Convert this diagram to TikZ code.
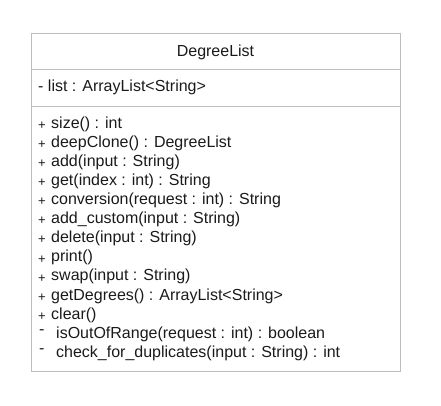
\documentclass[tikz,border=0pt]{standalone}
\usepackage{fontspec}
\setmainfont{Liberation Sans}
\definecolor{linegray}{HTML}{BDBDBD}
\definecolor{txt}{HTML}{1A1A1A}
\begin{document}
\begin{tikzpicture}[x=1pt,y=-1pt,
  boxline/.style={draw=linegray, line width=1pt},
  member/.style={anchor=base west, inner sep=0pt, font=\fontsize{16}{19}\selectfont, text=txt},
  plusmark/.style={anchor=base west, inner sep=0pt, font=\fontsize{13}{13}\selectfont, text=txt},
  minusmark/.style={anchor=base west, inner sep=0pt, font=\fontsize{16}{16}\selectfont, text=txt},
]
\useasboundingbox (0,0) rectangle (441,405);
\node[boxline, anchor=north west, minimum width=369pt, minimum height=338pt, inner sep=0pt] (box) at (31,33) {};
\coordinate (d1) at (0,69.5);
\coordinate (d2) at (0,106.5);
\draw[boxline] (box.west |- d1) -- (box.east |- d1);
\draw[boxline] (box.west |- d2) -- (box.east |- d2);
\node[member, anchor=base] (title) at (215.5,56) {DegreeList};
\node[member] (attr) at (38,91) {- list : ArrayList<String>};
\foreach \t [count=\i] in {{size() : int},{deepClone() : DegreeList},{add(input : String)},{get(index : int) : String},{conversion(request : int) : String},{add\_custom(input : String)},{delete(input : String)},{print()},{swap(input : String)},{getDegrees() : ArrayList<String>},{clear()}}{
  \node[plusmark] (p\i) at (38,{129.5+19.08*(\i-1)}) {+};
  \node[member] (m\i) at (51,{128.3+19.08*(\i-1)}) {\t};
}
\foreach \t [count=\i] in {{isOutOfRange(request : int) : boolean},{check\_for\_duplicates(input : String) : int}}{
  \node[minusmark] (q\i) at (39,{128.3+19.08*(\i+10)-4}) {-};
  \node[member] (n\i) at (56,{128.3+19.08*(\i+10)}) {\t};
}
\end{tikzpicture}
\end{document}
